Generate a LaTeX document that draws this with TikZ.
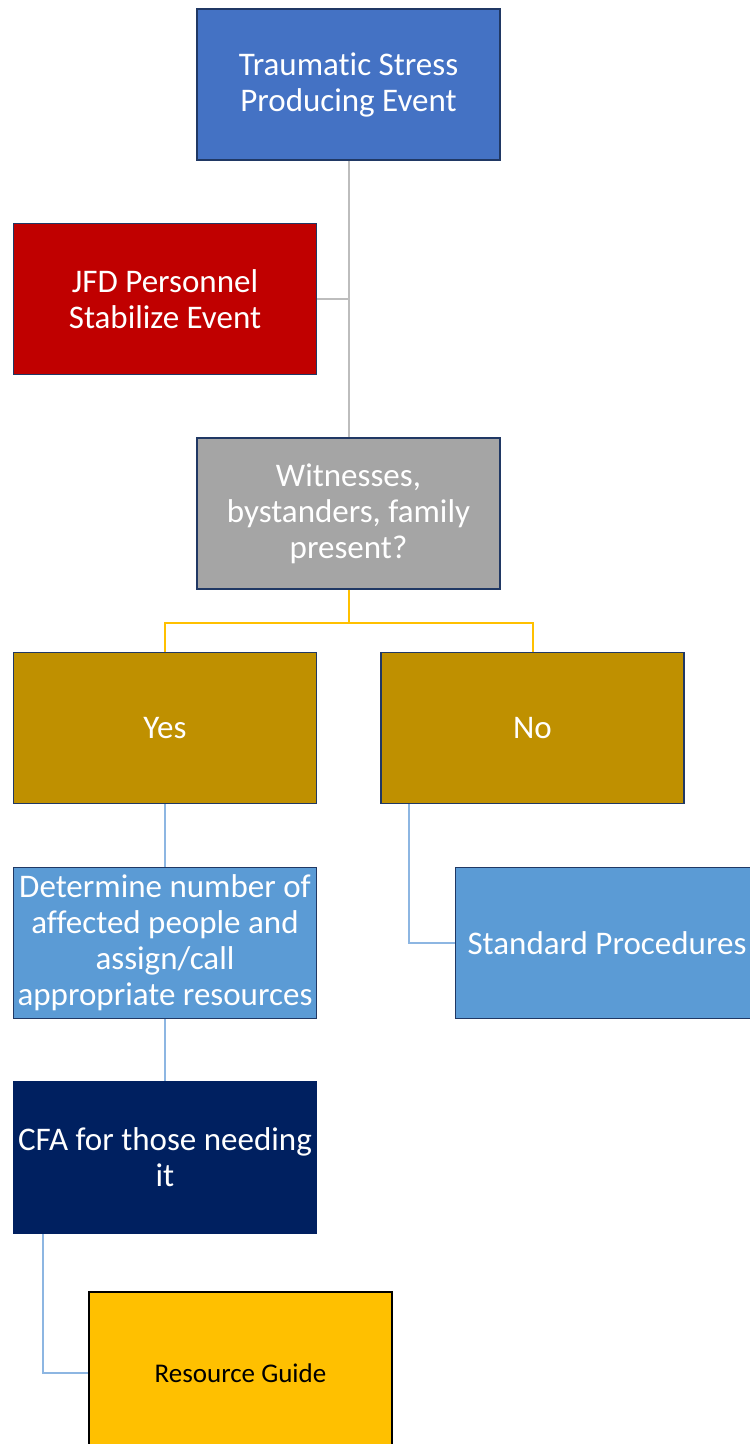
\documentclass[tikz,border=0pt]{standalone}
\usepackage{fontspec}
\setmainfont{Carlito}[Ligatures=NoCommon]
\usetikzlibrary{calc,backgrounds}
\definecolor{cTop}{HTML}{4472C4}
\definecolor{cRed}{HTML}{C00000}
\definecolor{cGray}{HTML}{A5A5A5}
\definecolor{cGold}{HTML}{BF9000}
\definecolor{cBlue}{HTML}{5B9BD5}
\definecolor{cNavy}{HTML}{002060}
\definecolor{cYel}{HTML}{FFC000}
\definecolor{cEdge}{HTML}{203864}
\definecolor{lnGray}{HTML}{BDBDBD}
\definecolor{lnYel}{HTML}{FFC000}
\definecolor{lnBlue}{HTML}{8DB6E2}
\tikzset{
  x=1pt, y=-1pt,
  box/.style={draw=cEdge, line width=1.4pt, minimum width=303pt, minimum height=151pt,
    inner sep=1pt, align=center, text=white, font=\fontsize{33}{36}\selectfont},
  conn/.style={line width=2pt},
}
\begin{document}
\begin{tikzpicture}
\clip (0,0) rectangle (750,1444);
\node[box, fill=cTop] (top) at (348.5,84.5) {Traumatic Stress\\Producing Event};
\node[box, fill=cRed] (jfd) at (165,299) {JFD Personnel\\Stabilize Event};
\node[box, fill=cGray] (wit) at (348.5,513.5) {Witnesses,\\bystanders, family\\present?};
\node[box, fill=cGold] (yes) at (165,728) {Yes};
\node[box, fill=cGold] (no) at (532.5,728) {No};
\node[box, fill=cBlue] (det) at (165,943) {Determine number of\\affected people and\\assign/call\\appropriate resources};
\node[box, fill=cBlue] (std) at (607,943) {Standard Procedures};
\node[box, fill=cNavy, draw=cNavy] (cfa) at (165,1157.5) {CFA for those needing\\it};
\node[box, fill=cYel, draw=black, text=black, minimum height=162pt, font=\fontsize{27}{32}\selectfont] (res) at (240.5,1373) {Resource Guide};
\begin{scope}[on background layer]
\draw[conn, lnGray] (top.south) -- (wit.north);
\draw[conn, lnGray] (jfd.east) -- (top.south |- jfd.east);
\coordinate (ysplit) at ($(wit.south)+(0,33)$);
\draw[conn, lnYel] (wit.south) -- (ysplit);
\draw[conn, lnYel] (ysplit) -| (yes.north);
\draw[conn, lnYel] (ysplit) -| (no.north);
\draw[conn, lnBlue] (yes.south) -- (det.north);
\draw[conn, lnBlue] (det.south) -- (cfa.north);
\coordinate (nofoot) at ($(no.south west)+(29,0)$);
\draw[conn, lnBlue] (nofoot) |- (std.west);
\coordinate (cfafoot) at ($(cfa.south west)+(30,0)$);
\draw[conn, lnBlue] (cfafoot) |- (res.west);
\end{scope}
\end{tikzpicture}
\end{document}
